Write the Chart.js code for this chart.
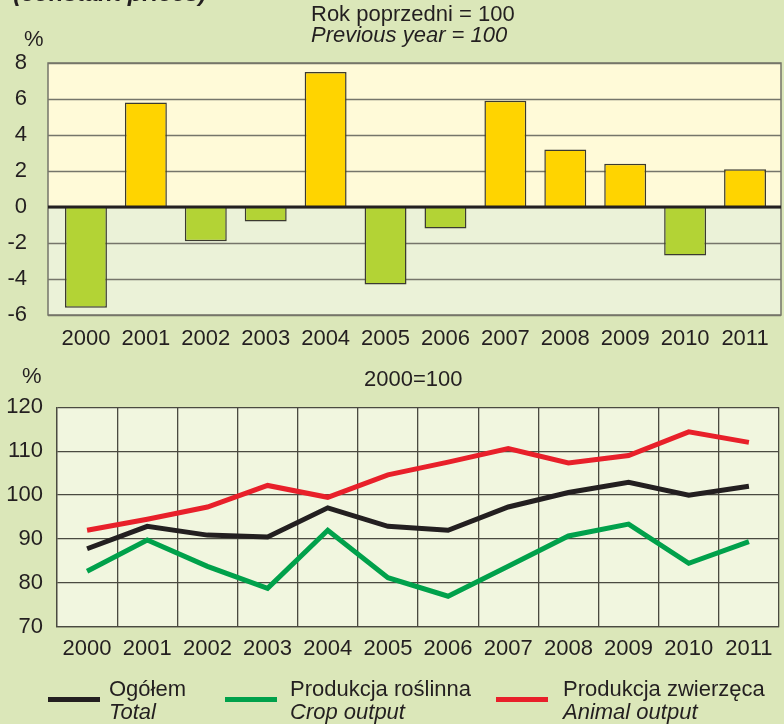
<!DOCTYPE html>
<html>
<head>
<meta charset="utf-8">
<script src="https://cdn.jsdelivr.net/npm/chart.js@4"></script>
<style>
  body { margin: 0; background: #dbe7b9; }
  #wrap { position: relative; width: 784px; height: 724px; overflow: hidden; background: #dbe7b9;
          font-family: 'Liberation Sans', Arial, sans-serif; color: #231f20; }
  canvas { position: absolute; left: 0; }
  .t { position: absolute; font-size: 22px; line-height: 22px; white-space: nowrap; z-index: 2; }
  .i { font-style: italic; }
  .leg { position: absolute; height: 5px; width: 52px; top: 697px; z-index: 2; }
</style>
</head>
<body>
<div id="wrap">
  <canvas id="barChart" width="784" height="360" style="top:0"></canvas>
  <canvas id="lineChart" width="784" height="300" style="top:380px"></canvas>

  <div class="t" style="left:13px;top:-19px;font-size:24px;line-height:24px;font-weight:bold;font-style:italic">(constant prices)</div>
  <div class="t" style="left:311px;top:3px">Rok poprzedni = 100</div>
  <div class="t i" style="left:311px;top:24px">Previous year = 100</div>
  <div class="t" style="left:24px;top:28px">%</div>
  <div class="t" style="left:22px;top:365px">%</div>
  <div class="t" style="left:364px;top:368px">2000=100</div>

  <div class="leg" style="left:48px;background:#231f20"></div>
  <div class="t" style="left:109px;top:678px">Ogółem</div>
  <div class="t i" style="left:109px;top:701px">Total</div>
  <div class="leg" style="left:225px;background:#00a14b"></div>
  <div class="t" style="left:290px;top:678px">Produkcja roślinna</div>
  <div class="t i" style="left:290px;top:701px">Crop output</div>
  <div class="leg" style="left:496px;background:#e8202a"></div>
  <div class="t" style="left:563px;top:678px">Produkcja zwierzęca</div>
  <div class="t i" style="left:563px;top:701px">Animal output</div>
</div>
<script>
// data
const years = ['2000', '2001', '2002', '2003', '2004', '2005', '2006', '2007', '2008', '2009', '2010', '2011'];
const yearChange = [-5.6, 5.8, -1.9, -0.8, 7.5, -4.3, -1.2, 5.9, 3.2, 2.4, -2.7, 2.1];
const totalIndex = [87.8, 92.9, 90.9, 90.5, 97.1, 92.9, 92.0, 97.3, 100.6, 102.9, 100.0, 102.0];
const cropIndex = [82.7, 89.8, 83.8, 78.8, 92.0, 81.2, 77.0, 83.8, 90.7, 93.4, 84.5, 89.4];
const animalIndex = [92.0, 94.5, 97.3, 102.2, 99.5, 104.6, 107.5, 110.6, 107.3, 109.0, 114.4, 112.0];
const barTicks = [-6, -4, -2, 0, 2, 4, 6, 8];
const lineTicks = [70, 80, 90, 100, 110, 120];

Chart.defaults.font.family = "'Liberation Sans', Arial, sans-serif";
Chart.defaults.font.size = 22;
Chart.defaults.color = '#231f20';
Chart.defaults.animation = false;

// the bar frame is a bit wider than the band the bars sit in
var FRAME_LEFT = 48, FRAME_RIGHT = 781;

// plot backgrounds, gridlines + frame for bars
var barBackground = {
  id: 'barBackground',
  beforeDatasetsDraw: function (chart) {
    var a = chart.chartArea, c = chart.ctx, y = chart.scales.y;
    var zero = y.getPixelForValue(0);
    c.save();
    c.fillStyle = '#fffad8';
    c.fillRect(FRAME_LEFT, a.top, FRAME_RIGHT - FRAME_LEFT, zero - a.top);
    c.fillStyle = '#ebf2d8';
    c.fillRect(FRAME_LEFT, zero, FRAME_RIGHT - FRAME_LEFT, a.bottom - zero);
    c.strokeStyle = '#75756a';
    c.lineWidth = 1.5;
    barTicks.forEach(function (v) {
      var p = Math.round(y.getPixelForValue(v)) + 0.5;
      c.beginPath();
      c.moveTo(FRAME_LEFT, p);
      c.lineTo(FRAME_RIGHT, p);
      c.stroke();
    });
    c.restore();
  },
  afterDatasetsDraw: function (chart) {
    var a = chart.chartArea, c = chart.ctx;
    var zero = chart.scales.y.getPixelForValue(0);
    c.save();
    c.strokeStyle = '#75756a';
    c.lineWidth = 1.5;
    c.strokeRect(FRAME_LEFT, a.top, FRAME_RIGHT - FRAME_LEFT, a.bottom - a.top);
    c.strokeStyle = '#231f20';
    c.lineWidth = 3;
    c.beginPath();
    c.moveTo(FRAME_LEFT, zero);
    c.lineTo(FRAME_RIGHT, zero);
    c.stroke();
    c.restore();
  }
};

var lineBackground = {
  id: 'lineBackground',
  beforeDraw: function (chart) {
    var a = chart.chartArea, c = chart.ctx;
    c.save();
    c.fillStyle = '#f1f6df';
    c.fillRect(a.left, a.top, a.right - a.left, a.bottom - a.top);
    c.restore();
  }
};

// bar chart: change on previous year
var barChart = new Chart(document.getElementById('barChart'), {
  type: 'bar',
  data: {
    labels: years,
    datasets: [{
      data: yearChange,
      backgroundColor: yearChange.map(v => v >= 0 ? '#ffd400' : '#b3d335'),
      borderColor: '#3b3a30',
      borderWidth: 1.5,
      barPercentage: 0.7,
      categoryPercentage: 1
    }]
  },
  options: {
    responsive: false,
    devicePixelRatio: 1,
    layout: { padding: { top: 63, left: 0, right: 9, bottom: 0 } },
    plugins: { legend: { display: false }, tooltip: { enabled: false } },
    scales: {
      x: {
        grid: { display: false },
        border: { display: false },
        ticks: { padding: 3, maxRotation: 0, autoSkip: false },
        afterFit: function (s) { s.height = 45; }
      },
      y: {
        min: -6,
        max: 8,
        afterBuildTicks: function (s) { s.ticks = barTicks.map(v => ({ value: v })); },
        grid: { display: false },
        border: { display: false },
        ticks: { padding: 21 },
        afterFit: function (s) { s.width = 56; }
      }
    }
  },
  plugins: [barBackground]
});

// line chart: 2000 = 100
var lineChart = new Chart(document.getElementById('lineChart'), {
  type: 'line',
  data: {
    labels: years,
    datasets: [
      { label: 'Produkcja roślinna', data: cropIndex, borderColor: '#00a14b' },
      { label: 'Ogółem', data: totalIndex, borderColor: '#231f20' },
      { label: 'Produkcja zwierzęca', data: animalIndex, borderColor: '#e8202a' }
    ]
  },
  options: {
    responsive: false,
    devicePixelRatio: 1,
    layout: { padding: { top: 21, left: 0, right: 5, bottom: 0 } },
    elements: {
      line: { borderWidth: 5, tension: 0, borderJoinStyle: 'miter', borderCapStyle: 'butt' },
      point: { radius: 0 }
    },
    plugins: { legend: { display: false }, tooltip: { enabled: false } },
    scales: {
      x: {
        offset: true,
        grid: { offset: true, color: '#4a4a40', lineWidth: 1.3, drawTicks: false },
        border: { color: '#4a4a40', width: 1.3 },
        ticks: { padding: 9, maxRotation: 0, autoSkip: false },
        afterFit: function (s) { s.height = 53; }
      },
      y: {
        min: 70,
        max: 120,
        afterBuildTicks: function (s) { s.ticks = lineTicks.map(v => ({ value: v })); },
        grid: { color: '#4a4a40', lineWidth: 1.3, drawTicks: false },
        border: { color: '#4a4a40', width: 1.3 },
        ticks: { padding: 14 },
        afterFit: function (s) { s.width = 57; }
      }
    }
  },
  plugins: [lineBackground]
});
</script>
</body>
</html>
